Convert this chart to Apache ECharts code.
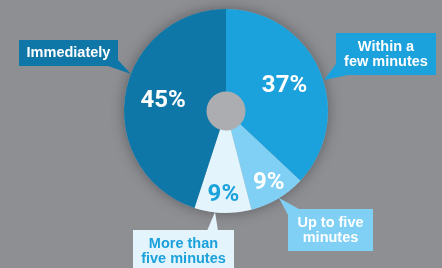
<!DOCTYPE html>
<html><head><meta charset="utf-8">
<script src="https://cdn.jsdelivr.net/npm/echarts@6/dist/echarts.min.js"></script>
<style>html,body{margin:0;padding:0;background:#8e8f93}#c{width:442px;height:268px}</style>
</head><body><div id="c"></div>
<script>
const categories = ['Within a\nfew minutes', 'Up to five\nminutes', 'More than\nfive minutes', 'Immediately'];
const values = [37, 9, 9, 45];

const sliceColors = ['#1ba1db', '#7fd0f4', '#e4f4fc', '#0e77a8'];
const pctColors = ['#ffffff', '#ffffff', '#1ba1db', '#ffffff'];
const boxTextColors = ['#ffffff', '#ffffff', '#1ba1db', '#ffffff'];
const boxLayout = [
  {x: 386, y: 54, w: 100, pad: [5, 0, 7, 0]},
  {x: 330.5, y: 230, w: 85, pad: [6, 0, 6, 0]},
  {x: 183.5, y: 251, w: 101, pad: [5, 0, 7, 0]},
  {x: 68.5, y: 53, w: 99, pad: [5, 0, 6, 0]}
];
const pointers = [
  [[336, 64], [348, 75], [324, 80]],
  [[279, 198], [288, 215], [299, 209]],
  [[215, 212], [207, 231], [218, 231]],
  [[108, 66], [118, 60], [131, 74]]
];

const center = [226, 111];
const R = 102;
const hole = 19.5;
const narrow = 'Roboto, "Liberation Sans", Arial, sans-serif';
const sans = '"Liberation Sans", Arial, sans-serif';

const chart = echarts.init(document.getElementById('c'), null, {renderer: 'canvas'});

const option = {
  backgroundColor: '#8e8f93',
  animation: false,
  graphic: pointers.map((p, i) => ({
    type: 'polygon', z: 50, silent: true,
    shape: {points: p},
    style: {fill: sliceColors[i]}
  })),
  series: [
    {
      type: 'pie', silent: true, center, radius: [0, R], z: 1,
      label: {show: false}, labelLine: {show: false},
      itemStyle: {color: '#acadb0', shadowBlur: 14, shadowColor: 'rgba(0,0,0,0.35)'},
      data: [{value: 1, name: 'bg'}]
    },
    {
      type: 'pie', silent: true, center, radius: [hole, R], z: 2,
      startAngle: 90, clockwise: true, avoidLabelOverlap: false,
      labelLine: {show: false},
      label: {show: true, position: 'inside', fontFamily: narrow, fontWeight: 'bold', fontSize: 24},
      data: values.map((v, i) => ({
        value: v, name: categories[i],
        itemStyle: {color: sliceColors[i]},
        label: {show: v >= 20, formatter: '{c}%', color: pctColors[i]}
      }))
    },
    {
      type: 'pie', silent: true, center, radius: [60, R], z: 3,
      startAngle: 90, clockwise: true, avoidLabelOverlap: false,
      labelLine: {show: false},
      label: {show: true, position: 'inside', fontFamily: narrow, fontWeight: 'bold', fontSize: 24},
      data: values.map((v, i) => ({
        value: v, name: categories[i],
        itemStyle: {color: 'transparent'},
        label: {show: v < 20, formatter: '{c}%', color: pctColors[i]}
      }))
    },
    {
      type: 'pie', silent: true, center, radius: [hole, R], z: 60,
      startAngle: 90, clockwise: true, avoidLabelOverlap: false,
      labelLine: {show: false},
      label: {show: true, position: 'outside', fontFamily: sans, fontWeight: 'bold', fontSize: 14.5, lineHeight: 15, align: 'center'},
      labelLayout: (params) => {
        const b = boxLayout[params.dataIndex];
        return {x: b.x, y: b.y, align: 'center', verticalAlign: 'middle', hideOverlap: false, moveOverlap: false};
      },
      data: values.map((v, i) => ({
        value: v, name: categories[i],
        itemStyle: {color: 'transparent'},
        label: {
          formatter: '{b}', color: boxTextColors[i], backgroundColor: sliceColors[i],
          width: boxLayout[i].w, padding: boxLayout[i].pad, align: 'center'
        }
      }))
    }
  ]
};
chart.setOption(option);
</script>
</body></html>
